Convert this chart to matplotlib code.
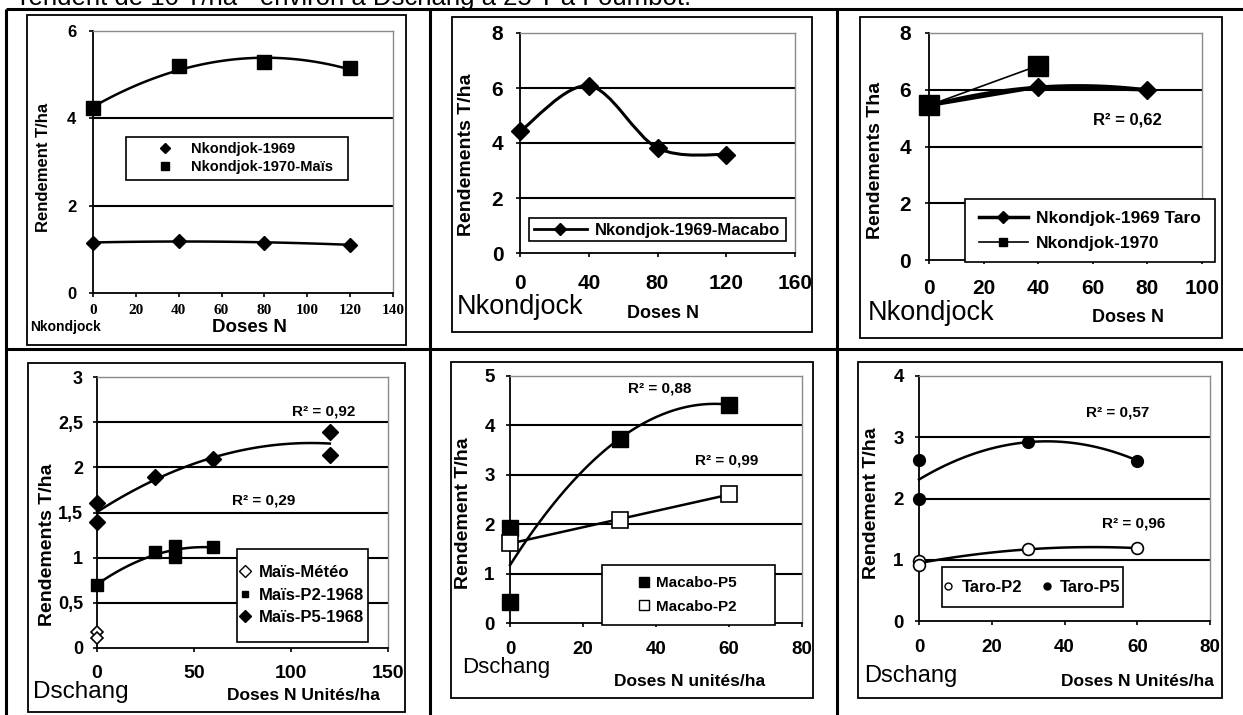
import numpy as np
import matplotlib
matplotlib.use("Agg")
import matplotlib.pyplot as plt
from matplotlib.patches import Rectangle, PathPatch
from matplotlib.path import Path
from matplotlib.lines import Line2D

W, H = 1243, 715
NARROW = ['Liberation Sans Narrow', 'Liberation Sans', 'DejaVu Sans']
SANS = ['Liberation Sans', 'DejaVu Sans']
SERIF = ['Liberation Serif', 'DejaVu Serif']

# --- data ---
# Nkondjock, maïs
mais69_x = [0, 40, 80, 120]
mais69_y = [1.15, 1.2, 1.14, 1.11]
mais70_x = [0, 40, 80, 120]
mais70_y = [4.23, 5.2, 5.29, 5.15]
# Nkondjock, macabo
mac69_x = [0, 40, 80, 120]
mac69_y = [4.42, 6.08, 3.82, 3.58]
# Nkondjock, taro
taro69_x = [0, 40, 80]
taro69_y = [5.45, 6.1, 6.0]
taro70_x = [0, 40]
taro70_y = [5.45, 6.85]
# Dschang, maïs
meteo_x = [0, 0]
meteo_y = [0.18, 0.11]
p2_68_x = [0, 30, 40, 40, 60]
p2_68_y = [0.7, 1.06, 1.13, 1.01, 1.12]
p5_68_x = [0, 0, 30, 60, 120, 120]
p5_68_y = [1.61, 1.39, 1.89, 2.09, 2.39, 2.14]
# Dschang, macabo
macP5_x = [0, 0, 30, 60]
macP5_y = [1.92, 0.42, 3.73, 4.42]
macP2_x = [0, 30, 60]
macP2_y = [1.62, 2.08, 2.61]
# Dschang, taro
taroP2_x = [0, 0, 30, 60]
taroP2_y = [0.98, 0.91, 1.17, 1.19]
taroP5_x = [0, 0, 30, 60]
taroP5_y = [2.63, 1.99, 2.92, 2.62]

fig = plt.figure(figsize=(W / 100, H / 100), dpi=100)
fig.patch.set_facecolor('white')


def fx(x):
    return x / W


def fy(y):
    return 1 - y / H


def frect(x0, y0, x1, y1, lw=1.3, fill=False, z=1):
    r = Rectangle((fx(x0), fy(y1)), fx(x1 - x0), (y1 - y0) / H, transform=fig.transFigure,
                  fill=fill, facecolor='white', edgecolor='black', lw=lw, zorder=z)
    fig.patches.append(r)


def fline(xs, ys, lw=2.0):
    fig.lines.append(Line2D([fx(v) for v in xs], [fy(v) for v in ys], transform=fig.transFigure,
                            color='black', lw=lw, solid_capstyle='butt'))


def ftext(x, y, s, size, family=NARROW, weight='bold', ha='center', va='center', rot=0):
    fig.text(fx(x), fy(y), s, fontsize=size, family=family, weight=weight, ha=ha, va=va, rotation=rot)


def make_ax(x0, y0, x1, y1, xlim, xticks, ylim, yticks, ylabels=None,
            xfs=13, yfs=13, xpad=8, ypad=8, xfam=NARROW):
    ax = fig.add_axes([fx(x0), fy(y1), fx(x1 - x0), (y1 - y0) / H])
    ax.set_xlim(*xlim)
    ax.set_ylim(*ylim)
    ax.set_xticks(xticks)
    ax.set_yticks(yticks)
    ax.set_xticklabels([str(t) for t in xticks], fontsize=xfs, family=xfam, weight='bold')
    ax.set_yticklabels(ylabels if ylabels else [str(t) for t in yticks],
                       fontsize=yfs, family=NARROW, weight='bold')
    for s in ['left', 'bottom']:
        ax.spines[s].set_color('black')
        ax.spines[s].set_linewidth(1.3)
    for s in ['top', 'right']:
        ax.spines[s].set_color('#8a8a8a')
        ax.spines[s].set_linewidth(1.0)
    ax.tick_params(axis='x', direction='out', length=3, width=1.2, pad=xpad)
    ax.tick_params(axis='y', direction='out', length=3, width=1.2, pad=ypad)
    for v in yticks[1:-1]:
        ax.axhline(v, color='black', lw=1.5, zorder=1)
    return ax


def trend(ax, xs, ys, deg=2, lw=1.8):
    c = np.polyfit(xs, ys, deg)
    t = np.linspace(min(xs), max(xs), 100)
    ax.plot(t, np.polyval(c, t), color='black', lw=lw, zorder=3, clip_on=False)


def smooth_line(ax, xs, ys, lw=2.2):
    p = list(zip(xs, ys))
    n = len(p)
    verts = [p[0]]
    codes = [Path.MOVETO]
    for i in range(n - 1):
        a = p[i - 1] if i > 0 else p[i]
        b, c = p[i], p[i + 1]
        d = p[i + 2] if i + 2 < n else p[i + 1]
        c1 = (b[0] + (c[0] - a[0]) / 6, b[1] + (c[1] - a[1]) / 6)
        c2 = (c[0] - (d[0] - b[0]) / 6, c[1] - (d[1] - b[1]) / 6)
        verts += [c1, c2, c]
        codes += [Path.CURVE4] * 3
    ax.add_patch(PathPatch(Path(verts, codes), fill=False, lw=lw, edgecolor='black', zorder=3))


def mk(ax, xs, ys, m, ms, fc='black', mew=1.0):
    ax.plot(xs, ys, ls='none', marker=m, ms=ms, mfc=fc, mec='black', mew=mew, zorder=4, clip_on=False)


def flegend(handles, labels, cx, cy, fs, ncol=1, spacing=0.5, hl=1.0, colsp=1.5):
    lg = fig.legend(handles, labels, loc='center', bbox_to_anchor=(fx(cx), fy(cy)),
                    frameon=False, ncol=ncol, handlelength=hl, handletextpad=0.5,
                    labelspacing=spacing, columnspacing=colsp,
                    prop={'family': NARROW, 'weight': 'bold', 'size': fs})
    lg.set_zorder(6)


# --- table frame and top text (cut by the page edge, as in the scan) ---
fig.text(fx(20), fy(5), "rendent de 10 T/ha - environ à Dschang à 25 T à Foumbot.",
         fontsize=18.5, family=SANS, ha='left', va='baseline')
fline([6, W], [9, 9], 2.2)
fline([6, 6], [9, H], 2.2)
fline([430, 430], [9, H], 2.2)
fline([837, 837], [9, H], 2.2)
fline([6, W], [349, 349], 2.2)

# chart borders
frect(27, 15, 406, 345)
frect(452, 17, 812, 332)
frect(860, 17, 1222, 338)
frect(28, 363, 405, 712)
frect(451, 362, 813, 698)
frect(858, 362, 1222, 698)

# --- panel 1: Nkondjock maïs ---
ax1 = make_ax(93, 31, 393, 293, (0, 140), list(range(0, 141, 20)), (0, 6), [0, 2, 4, 6],
              xfs=11, yfs=12, xpad=5, ypad=9, xfam=SERIF)
trend(ax1, mais69_x, mais69_y)
trend(ax1, mais70_x, mais70_y)
mk(ax1, mais69_x, mais69_y, 'D', 7.5)
mk(ax1, mais70_x, mais70_y, 's', 10)
ftext(43, 167, "Rendement T/ha", 12, rot=90)
ftext(249, 328, "Doses N", 13.5)
ftext(30, 327, "Nkondjock", 10, ha='left')
frect(126, 137, 348, 180, lw=1.2, fill=True)
flegend([Line2D([], [], ls='none', marker='D', ms=5, color='black'),
         Line2D([], [], ls='none', marker='s', ms=6, color='black')],
        ["Nkondjok-1969", "Nkondjok-1970-Maïs"], 240, 158, 10.5, spacing=0.3, hl=2.5)

# --- panel 2: Nkondjock macabo ---
ax2 = make_ax(520, 33, 795, 253, (0, 160), [0, 40, 80, 120, 160], (0, 8), [0, 2, 4, 6, 8],
              xfs=15, yfs=15, xpad=12, ypad=9)
smooth_line(ax2, mac69_x, mac69_y)
mk(ax2, mac69_x, mac69_y, 'D', 9)
ftext(467, 155, "Rendements T/ha", 14, rot=90)
ftext(663, 313, "Doses N", 13)
ftext(457, 307, "Nkondjock", 19.5, family=SANS, weight='normal', ha='left')
frect(529, 218, 786, 241, lw=1.2, fill=True)
flegend([Line2D([], [], lw=2, marker='D', ms=6, color='black')],
        ["Nkondjok-1969-Macabo"], 657, 230, 12, hl=3.2)

# --- panel 3: Nkondjock taro ---
ax3 = make_ax(929, 33, 1202, 260, (0, 100), list(range(0, 101, 20)), (0, 8), [0, 2, 4, 6, 8],
              xfs=15, yfs=15, xpad=11, ypad=10)
trend(ax3, taro69_x, taro69_y, lw=2.0)
ax3.plot(taro69_x, taro69_y, color='black', lw=2.6, zorder=3)
ax3.plot(taro70_x, taro70_y, color='black', lw=1.2, zorder=3)
mk(ax3, taro69_x, taro69_y, 'D', 9)
mk(ax3, taro70_x, taro70_y, 's', 14)
ax3.text(72.5, 4.93, "R² = 0,62", fontsize=12, family=NARROW, weight='bold', ha='center', va='center')
ftext(875, 160, "Rendements Tha", 14, rot=90)
ftext(1128, 318, "Doses N", 13)
ftext(868, 313, "Nkondjock", 19.5, family=SANS, weight='normal', ha='left')
frect(965, 199, 1215, 262, lw=1.2, fill=True)
flegend([Line2D([], [], lw=2.5, marker='D', ms=6, color='black'),
         Line2D([], [], lw=1.2, marker='s', ms=6, color='black')],
        ["Nkondjok-1969 Taro", "Nkondjok-1970"], 1090, 231, 12.5, spacing=0.55, hl=2.8)

# --- panel 4: Dschang maïs ---
ax4 = make_ax(97, 377, 388, 648, (0, 150), [0, 50, 100, 150], (0, 3),
              [0, 0.5, 1, 1.5, 2, 2.5, 3], ["0", "0,5", "1", "1,5", "2", "2,5", "3"],
              xfs=14, yfs=13, xpad=9, ypad=7)
trend(ax4, p2_68_x, p2_68_y)
trend(ax4, p5_68_x, p5_68_y)
mk(ax4, meteo_x, meteo_y, 'D', 6.5, fc='white', mew=1.2)
mk(ax4, p2_68_x, p2_68_y, 's', 8.5)
mk(ax4, p5_68_x, p5_68_y, 'D', 8)
ax4.text(117, 2.62, "R² = 0,92", fontsize=11, family=NARROW, weight='bold', ha='center', va='center')
ax4.text(86, 1.63, "R² = 0,29", fontsize=11, family=NARROW, weight='bold', ha='center', va='center')
ftext(47, 545, "Rendements T/ha", 14, rot=90)
ftext(303, 695, "Doses N Unités/ha", 12.5)
ftext(33, 692, "Dschang", 17.5, family=SANS, weight='normal', ha='left')
frect(237, 549, 368, 642, lw=1.2, fill=True)
flegend([Line2D([], [], ls='none', marker='D', ms=6, mfc='white', mec='black', mew=1),
         Line2D([], [], ls='none', marker='s', ms=5, color='black'),
         Line2D([], [], ls='none', marker='D', ms=6, color='black')],
        ["Maïs-Météo", "Maïs-P2-1968", "Maïs-P5-1968"], 302, 595, 12, spacing=0.45, hl=0.6)

# --- panel 5: Dschang macabo ---
ax5 = make_ax(510, 376, 802, 623, (0, 80), list(range(0, 81, 20)), (0, 5), [0, 1, 2, 3, 4, 5],
              xfs=13.5, yfs=13.5, xpad=10, ypad=8)
trend(ax5, macP5_x, macP5_y)
trend(ax5, macP2_x, macP2_y, deg=1)
mk(ax5, macP5_x, macP5_y, 's', 11)
mk(ax5, macP2_x, macP2_y, 's', 11, fc='white', mew=1.2)
ax5.text(41, 4.75, "R² = 0,88", fontsize=11, family=NARROW, weight='bold', ha='center', va='center')
ax5.text(59.5, 3.28, "R² = 0,99", fontsize=11, family=NARROW, weight='bold', ha='center', va='center')
ftext(463, 513, "Rendement T/ha", 14, rot=90)
ftext(690, 682, "Doses N unités/ha", 12.5)
ftext(462, 668, "Dschang", 16, family=SANS, weight='normal', ha='left')
frect(602, 565, 775, 625, lw=1.2, fill=True)
flegend([Line2D([], [], ls='none', marker='s', ms=6.5, color='black'),
         Line2D([], [], ls='none', marker='s', ms=6.5, mfc='white', mec='black', mew=1)],
        ["Macabo-P5", "Macabo-P2"], 688, 595, 11, spacing=0.6, hl=0.6)

# --- panel 6: Dschang taro ---
ax6 = make_ax(919, 376, 1210, 621, (0, 80), list(range(0, 81, 20)), (0, 4), [0, 1, 2, 3, 4],
              xfs=13.5, yfs=13.5, xpad=10, ypad=8)
trend(ax6, taroP2_x, taroP2_y)
trend(ax6, taroP5_x, taroP5_y)
mk(ax6, taroP2_x, taroP2_y, 'o', 8.5, fc='white', mew=1.2)
mk(ax6, taroP5_x, taroP5_y, 'o', 8.5)
ax6.text(54.5, 3.4, "R² = 0,57", fontsize=11, family=NARROW, weight='bold', ha='center', va='center')
ax6.text(59, 1.6, "R² = 0,96", fontsize=11, family=NARROW, weight='bold', ha='center', va='center')
ftext(872, 503, "Rendement T/ha", 14, rot=90)
ftext(1137, 682, "Doses N Unités/ha", 12.5)
ftext(864, 676, "Dschang", 17, family=SANS, weight='normal', ha='left')
frect(942, 567, 1123, 607, lw=1.2, fill=True)
flegend([Line2D([], [], ls='none', marker='o', ms=5, mfc='white', mec='black', mew=1),
         Line2D([], [], ls='none', marker='o', ms=5, color='black')],
        ["Taro-P2", "Taro-P5"], 1032, 587, 12, ncol=2, hl=0.6, colsp=1.2)

fig.savefig("out.png", dpi=100)
